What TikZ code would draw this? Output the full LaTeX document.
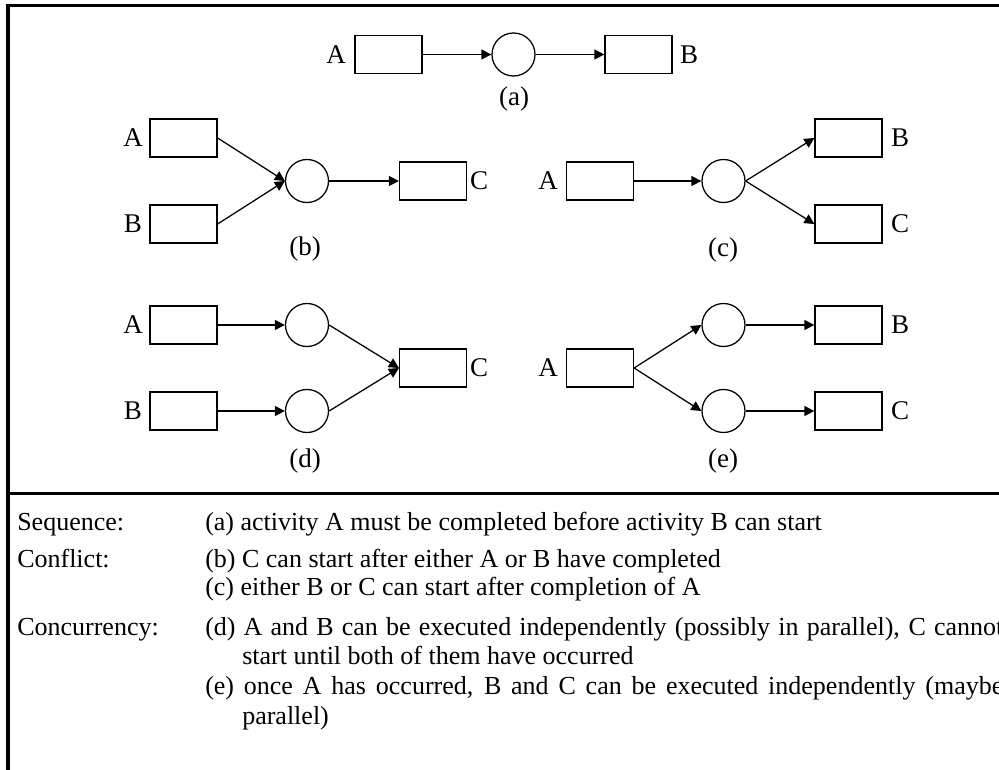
\documentclass[tikz,border=0pt]{standalone}
\usepackage{fontspec}
\setmainfont{Liberation Serif}
\usetikzlibrary{arrows.meta}
\begin{document}
\begin{tikzpicture}[x=0.75pt,y=-0.75pt,
  box/.style={draw, line width=0.95pt, minimum width=50.25pt, minimum height=28.5pt, inner sep=0pt},
  place/.style={draw, circle, line width=0.95pt, minimum size=32.25pt, inner sep=0pt},
  arc/.style={line width=0.95pt, -{Triangle[length=7.5pt,width=7.5pt]}},
  lbl/.style={font=\fontsize{20.25}{24}\selectfont, inner sep=0pt},
  txt/.style={font=\fontsize{19.5}{23}\selectfont, inner sep=0pt, anchor=base west},
  frameline/.style={line width=2.8pt}]
\useasboundingbox (0,0) rectangle (999,770);
% frame
\coordinate (fTL) at (8,5.5);
\coordinate (fTR) at (1005,5.5);
\coordinate (fBL) at (8,775);
\coordinate (fML) at (8,493.5);
\coordinate (fMR) at (1005,493.5);
\draw[frameline] (fTR) -- (fTL) -- (fBL);
\draw[frameline] (fML) -- (fMR);
% (a)
\node[box] (aA) at (388.5,54.5) {};
\node[place] (aP) at (513.5,54.5) {};
\node[box] (aB) at (638.5,54.5) {};
\node[lbl] (aAl) at (336,55) {A};
\node[lbl] (aBl) at (689,55) {B};
\node[lbl] (aCap) at (514,99) {(a)};
\draw[arc] (aA.east) -- (aP.west);
\draw[arc] (aP.east) -- (aB.west);
% (b)
\node[box] (bA) at (183.5,138) {};
\node[box] (bB) at (183.5,224) {};
\node[place] (bP) at (307,181) {};
\node[box] (bC) at (433,181) {};
\node[lbl] (bAl) at (133,138) {A};
\node[lbl] (bBl) at (133,224) {B};
\node[lbl] (bCl) at (479,181) {C};
\node[lbl] (bCap) at (305,249) {(b)};
\draw[arc] (bA.east) -- (bP.west);
\draw[arc] (bB.east) -- (bP.west);
\draw[arc] (bP.east) -- (bC.west);
% (c)
\node[box] (cA) at (600,181) {};
\node[place] (cP) at (723.5,181) {};
\node[box] (cB) at (848.5,138) {};
\node[box] (cC) at (848.5,224) {};
\node[lbl] (cAl) at (548,181) {A};
\node[lbl] (cBl) at (900,138) {B};
\node[lbl] (cCl) at (900,224) {C};
\node[lbl] (cCap) at (723,250) {(c)};
\draw[arc] (cA.east) -- (cP.west);
\draw[arc] (cP.east) -- (cB.west);
\draw[arc] (cP.east) -- (cC.west);
% (d)
\node[box] (dA) at (183.5,325) {};
\node[box] (dB) at (183.5,411) {};
\node[place] (dP1) at (307,325) {};
\node[place] (dP2) at (307,411) {};
\node[box] (dC) at (433,368) {};
\node[lbl] (dAl) at (133,325) {A};
\node[lbl] (dBl) at (133,411) {B};
\node[lbl] (dCl) at (479,368) {C};
\node[lbl] (dCap) at (305,461) {(d)};
\draw[arc] (dA.east) -- (dP1.west);
\draw[arc] (dB.east) -- (dP2.west);
\draw[arc] (dP1.east) -- (dC.west);
\draw[arc] (dP2.east) -- (dC.west);
% (e)
\node[box] (eA) at (600,368) {};
\node[place] (eP1) at (723.5,325) {};
\node[place] (eP2) at (723.5,411) {};
\node[box] (eB) at (848.5,325) {};
\node[box] (eC) at (848.5,411) {};
\node[lbl] (eAl) at (548,368) {A};
\node[lbl] (eBl) at (900,325) {B};
\node[lbl] (eCl) at (900,411) {C};
\node[lbl] (eCap) at (723,461) {(e)};
\draw[arc] (eA.east) -- (eP1.west);
\draw[arc] (eA.east) -- (eP2.west);
\draw[arc] (eP1.east) -- (eB.west);
\draw[arc] (eP2.east) -- (eC.west);
% text
\node[txt] (t1) at (17,530) {Sequence:};
\node[txt] (t1a) at (205,530) {(a) activity A must be completed before activity B can start};
\node[txt] (t2) at (17,567) {Conflict:};
\node[txt] (t2b) at (205,567) {(b) C can start after either A or B have completed};
\node[txt] (t2c) at (205,595) {(c) either B or C can start after completion of A};
\node[txt] (t3) at (17,635) {Concurrency:};
\node[txt] (t3d) at (205,635) {\makebox[598.5pt][s]{(d) A and B can be executed independently (possibly in parallel), C cannot}};
\node[txt] (t3d2) at (242,664) {start until both of them have occurred};
\node[txt] (t3e) at (205,694) {\makebox[598.5pt][s]{(e) once A has occurred, B and C can be executed independently (maybe}};
\node[txt] (t3e2) at (242,724) {parallel)};
\end{tikzpicture}
\end{document}
